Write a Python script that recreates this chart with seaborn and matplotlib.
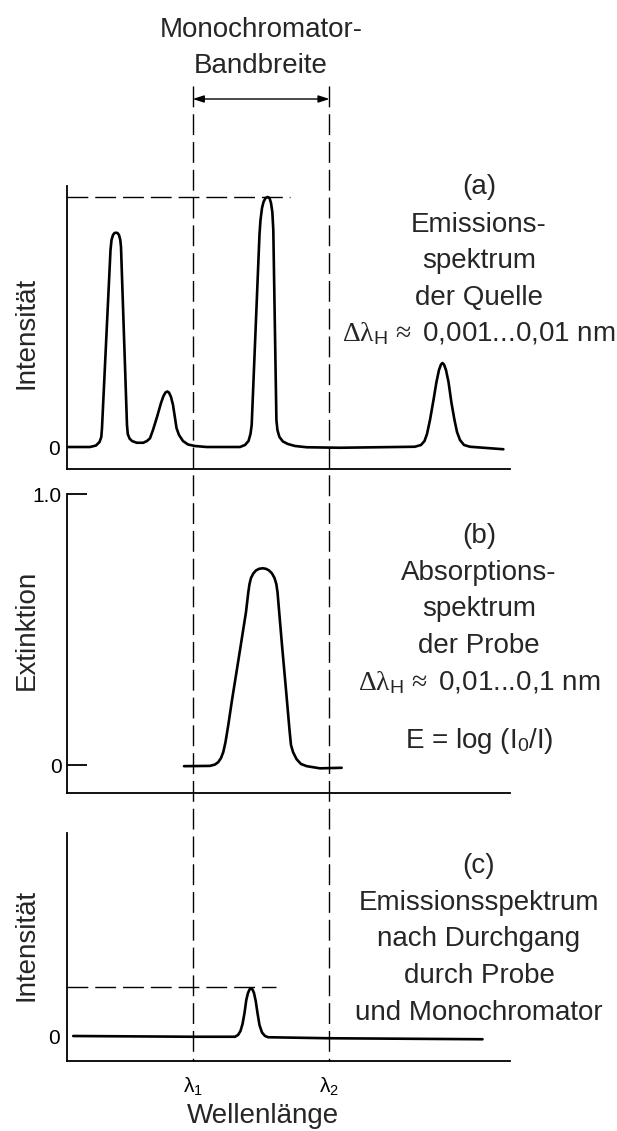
import matplotlib
matplotlib.use("Agg")
import matplotlib.pyplot as plt
import matplotlib.transforms as mtransforms
import seaborn as sns

# ---------------- data (wavelength in arbitrary units 0..100) ----------------
# (a) emission spectrum of the source
emission_x = [0.3, 5.19, 6.55, 7.34, 7.74, 7.9, 9.82, 10.05, 10.38, 10.72, 11.06, 11.40,
              11.74, 12.03, 12.19, 13.54, 13.72, 14.11, 14.67, 15.73, 17.22, 18.06, 18.74,
              19.41, 20.32, 21.22, 21.78, 22.23, 22.64, 23.02, 23.48, 23.93, 24.38, 24.72,
              25.28, 26.18, 27.31, 28.89, 31.5, 39.05, 40.18, 40.97, 41.42, 41.69, 43.45,
              43.68, 44.02, 44.36, 44.81, 45.31, 45.71, 46.05, 46.35, 46.57, 47.27, 47.5,
              47.95, 48.74, 49.86, 51.47, 54.1, 61.6, 78.5, 79.9, 80.7, 81.26, 81.94,
              82.73, 83.4, 83.97, 84.42, 84.76, 85.1, 85.55, 86.12, 86.79, 87.47, 88.04,
              88.71, 89.62, 90.97, 98.5]
emission_y = [0.0, 0.0, 0.006, 0.02, 0.04, 0.076, 0.788, 0.828, 0.848, 0.856, 0.857, 0.856,
              0.848, 0.828, 0.8, 0.088, 0.052, 0.034, 0.024, 0.017, 0.017, 0.024, 0.035,
              0.068, 0.12, 0.176, 0.204, 0.218, 0.222, 0.218, 0.2, 0.168, 0.116, 0.076,
              0.048, 0.024, 0.01, 0.004, 0.0, 0.0, 0.008, 0.024, 0.052, 0.088, 0.85,
              0.908, 0.956, 0.98, 0.996, 1.0, 0.996, 0.976, 0.94, 0.868, 0.108, 0.068,
              0.04, 0.022, 0.012, 0.004, -0.001, -0.003, 0.001, 0.008, 0.024, 0.052, 0.108,
              0.188, 0.26, 0.308, 0.33, 0.336, 0.33, 0.308, 0.26, 0.176, 0.108, 0.06,
              0.028, 0.008, 0.001, -0.009]

# (b) absorption spectrum of the sample (extinction)
absorption_x = [26.41, 32.28, 33.41, 34.15, 34.76, 35.28, 35.78, 36.41, 37.25, 39.05, 40.41,
                40.93, 41.2, 41.53, 42.06, 42.66, 43.34, 44.18, 44.92, 45.6, 46.28, 46.84,
                47.25, 47.52, 47.86, 48.53, 49.44, 50.23, 50.56, 51.02, 51.81, 52.82, 54.11,
                57.11, 62.0]
absorption_y = [-0.004, -0.003, 0.002, 0.011, 0.026, 0.048, 0.085, 0.148, 0.24, 0.424, 0.565,
                0.638, 0.668, 0.69, 0.707, 0.718, 0.724, 0.726, 0.724, 0.718, 0.707, 0.69,
                0.668, 0.638, 0.572, 0.443, 0.277, 0.129, 0.074, 0.048, 0.022, 0.004, -0.004,
                -0.012, -0.01]

# (c) emission after sample and monochromator
transmitted_x = [1.4, 28.4, 37.92, 38.6, 39.16, 39.62, 40.07, 40.47, 40.86, 41.2, 41.53,
                 41.87, 42.21, 42.6, 43.0, 43.45, 44.02, 44.7, 45.44, 59.1, 93.8]
transmitted_y = [0.0, -0.003, -0.003, 0.004, 0.02, 0.048, 0.092, 0.144, 0.172, 0.186, 0.191,
                 0.186, 0.172, 0.14, 0.092, 0.044, 0.014, 0.0, -0.005, -0.009, -0.013]

lambda_1 = 28.4
lambda_2 = 59.25
ref_level_a = 1.0
ref_end_a = 50.3
ref_level_c = 0.196
ref_end_c = 47.2

ytick_b = [0, 1.0]
ytick_b_labels = ["0", "1.0"]
xtick_labels = [r"$\mathsf{\lambda}_{\mathsf{1}}$", r"$\mathsf{\lambda}_{\mathsf{2}}$"]

text_a = ["(a)", "Emissions-", "spektrum", "der Quelle",
          r"$\mathrm{\Delta\lambda}_{\mathsf{H}}\,\approx$ 0,001...0,01 nm"]
text_b = ["(b)", "Absorptions-", "spektrum", "der Probe",
          r"$\mathrm{\Delta\lambda}_{\mathsf{H}}\,\approx$ 0,01...0,1 nm",
          r"E = log (I$_{\mathsf{0}}$/I)"]
text_c = ["(c)", "Emissionsspektrum", "nach Durchgang", "durch Probe",
          "und Monochromator"]

# ---------------- style ----------------
sns.set_theme(style="white")
plt.rcParams["font.family"] = ["Liberation Sans", "DejaVu Sans"]
plt.rcParams["mathtext.fontset"] = "custom"
plt.rcParams["mathtext.rm"] = "Liberation Serif"
plt.rcParams["mathtext.it"] = "Liberation Serif:italic"
plt.rcParams["mathtext.sf"] = "Liberation Sans"

W, H = 617, 1131
fig = plt.figure(figsize=(W / 100, H / 100), dpi=100)


def rect(left, top, right, bottom):
    return [left / W, 1 - bottom / H, (right - left) / W, (bottom - top) / H]


def fx(px):
    return px / W


def fy(py):
    return 1 - py / H


ax_a = fig.add_axes(rect(67, 186, 510, 469))
ax_b = fig.add_axes(rect(67, 494, 510, 793))
ax_c = fig.add_axes(rect(67, 833, 510, 1061))

curve_kw = dict(color="black", linewidth=1.9, estimator=None, sort=False, legend=False,
                solid_joinstyle="round", solid_capstyle="round")
dash_kw = dict(color="black", linewidth=1.0, linestyle=(0, (15, 5)))

sns.lineplot(x=emission_x, y=emission_y, ax=ax_a, **curve_kw)
sns.lineplot(x=absorption_x, y=absorption_y, ax=ax_b, **curve_kw)
sns.lineplot(x=transmitted_x, y=transmitted_y, ax=ax_c, **curve_kw)

ax_a.hlines(ref_level_a, 0, ref_end_a, **dash_kw)
ax_c.hlines(ref_level_c, 0, ref_end_c, **dash_kw)

for ax in (ax_a, ax_b, ax_c):
    ax.set_xlim(0, 100)
    for s in ("top", "right"):
        ax.spines[s].set_visible(False)
    for s in ("left", "bottom"):
        ax.spines[s].set_color("black")
        ax.spines[s].set_linewidth(1.3)
    ax.set_facecolor("none")
    ax.set_xlabel("")
    ax.set_ylabel("")

ax_a.set_ylim(-0.088, 1.044)
ax_b.set_ylim(-0.103, 1.0)
ax_c.set_ylim(-0.1, 0.812)

ax_a.set_yticks([0])
ax_a.set_yticklabels(["0"])
ax_c.set_yticks([0])
ax_c.set_yticklabels(["0"])
ax_b.set_yticks(ytick_b)
ax_b.set_yticklabels(ytick_b_labels)

for ax in (ax_a, ax_c):
    ax.tick_params(axis="y", length=0, pad=5, labelsize=15, colors="black")
ax_b.tick_params(axis="y", direction="in", length=14.5, width=1.3, pad=4,
                 labelsize=15, colors="black", left=True)

ax_a.set_xticks([])
ax_b.set_xticks([])
ax_c.set_xticks([lambda_1, lambda_2])
ax_c.set_xticklabels(xtick_labels)
ax_c.tick_params(axis="x", length=0, pad=10, labelsize=15, colors="black")

# vertical dashed lines (monochromator bandwidth) spanning all panels
blend = mtransforms.blended_transform_factory(ax_a.transData, fig.transFigure)
for lam in (lambda_1, lambda_2):
    ax_a.plot([lam, lam], [fy(86), fy(1061)], transform=blend, clip_on=False, **dash_kw)

ax_a.annotate("", xy=(lambda_1, fy(99)), xytext=(lambda_2, fy(99)),
              xycoords=blend, textcoords=blend, annotation_clip=False,
              arrowprops=dict(arrowstyle="<|-|>,head_length=0.55,head_width=0.18",
                              color="black", lw=1.0, shrinkA=0, shrinkB=0))

fig.text(fx(261), fy(37), "Monochromator-", ha="center", va="baseline", fontsize=20)
fig.text(fx(261), fy(73), "Bandbreite", ha="center", va="baseline", fontsize=20)

for s, b in zip(text_a, [194, 231.5, 268, 305, 341.5]):
    fig.text(fx(479), fy(b), s, ha="center", va="baseline", fontsize=20)
for s, b in zip(text_b, [543, 580, 616.5, 653, 690, 748]):
    fig.text(fx(479), fy(b), s, ha="center", va="baseline", fontsize=20)
for s, b in zip(text_c, [873, 910, 946.5, 983, 1020]):
    fig.text(fx(479), fy(b), s, ha="center", va="baseline", fontsize=20)

fig.text(fx(27), fy(333), "Intensität", rotation=90, ha="center", va="center", fontsize=20)
fig.text(fx(27), fy(630), "Extinktion", rotation=90, ha="center", va="center", fontsize=20)
fig.text(fx(27), fy(945), "Intensität", rotation=90, ha="center", va="center", fontsize=20)
fig.text(fx(263), fy(1123), "Wellenlänge", ha="center", va="baseline", fontsize=20)

fig.savefig("out.png", dpi=100, facecolor="white")
